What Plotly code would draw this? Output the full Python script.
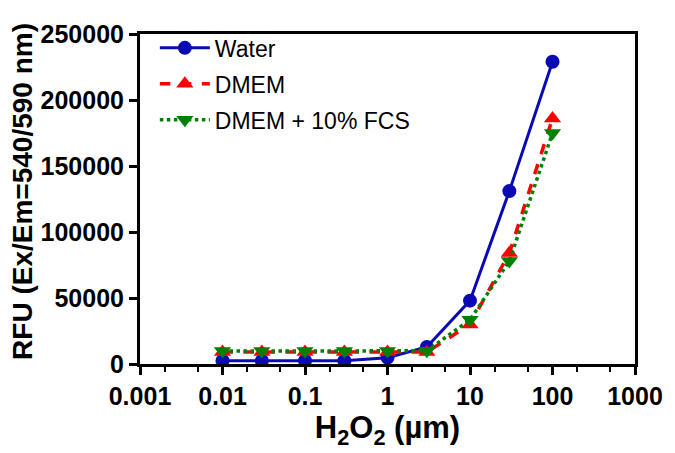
import plotly.graph_objects as go

# H2O2 concentrations (µm)
h2o2 = [0.01, 0.03, 0.1, 0.3, 1, 3, 10, 30, 100]

water = [2500, 2500, 2500, 2500, 4800, 12900, 48000, 131000, 229000]
dmem = [9000, 9000, 9000, 9000, 9000, 9000, 30000, 84000, 186000]
dmem_fcs = [9800, 9800, 9800, 9800, 9800, 10000, 33500, 78000, 175000]

x_ticks = [0.001, 0.01, 0.1, 1, 10, 100, 1000]
x_labels = ["0.001", "0.01", "0.1", "1", "10", "100", "1000"]
y_ticks = [0, 50000, 100000, 150000, 200000, 250000]

font = "Liberation Sans, Arial, sans-serif"

fig = go.Figure()
fig.add_trace(go.Scatter(
    x=h2o2, y=water, name="Water", mode="lines+markers", legendgroup="a",
    line=dict(color="#0a0ab4", width=3),
    marker=dict(symbol="circle", size=14, color="#0a0ab4")))
fig.add_trace(go.Scatter(
    x=h2o2, y=dmem, name="DMEM", mode="lines+markers", legendgroup="b",
    line=dict(color="#ff0000", width=3.5, dash="dash"),
    marker=dict(symbol="triangle-up", size=15, color="#ff0000")))
fig.add_trace(go.Scatter(
    x=h2o2, y=dmem_fcs, name="DMEM + 10% FCS", mode="lines+markers", legendgroup="c",
    line=dict(color="#008000", width=3.5, dash="dot"),
    marker=dict(symbol="triangle-down", size=15, color="#008000")))

axis_common = dict(
    showline=True, linecolor="black", linewidth=3, mirror=True,
    ticks="outside", ticklen=8, tickwidth=3, tickcolor="black",
    showgrid=False, zeroline=False,
    tickfont=dict(family=font, size=25, color="black", weight="bold"),
)

fig.update_xaxes(
    type="log", range=[-3, 3],
    tickvals=x_ticks, ticktext=x_labels,
    minor=dict(ticks="outside", ticklen=5, tickwidth=2, tickcolor="black", showgrid=False),
    title=dict(text="H<sub>2</sub>O<sub>2</sub> (µm)", standoff=6,
               font=dict(family=font, size=31, color="black", weight="bold")),
    **axis_common)
fig.update_yaxes(range=[0, 250000], tickvals=y_ticks, tickformat="d", **axis_common)

# y title as an annotation so it can sit a bit above the plot centre
fig.add_annotation(
    text="RFU (Ex/Em=540/590 nm)", textangle=-90,
    xref="paper", yref="paper", x=-0.236, y=0.522,
    xanchor="center", yanchor="middle", showarrow=False,
    font=dict(family=font, size=28, color="black", weight="bold"))

# page body adds an 8px offset, so the figure is shrunk by that amount
fig.update_layout(
    width=667, height=445,
    margin=dict(l=132, r=32, t=18, b=89),
    plot_bgcolor="white", paper_bgcolor="white",
    legend=dict(x=0.03, y=1.023, xanchor="left", yanchor="top",
                bgcolor="rgba(0,0,0,0)", tracegroupgap=3, itemwidth=50,
                traceorder="grouped",
                font=dict(family=font, size=23, color="black")),
)

fig.write_html("out.html")
